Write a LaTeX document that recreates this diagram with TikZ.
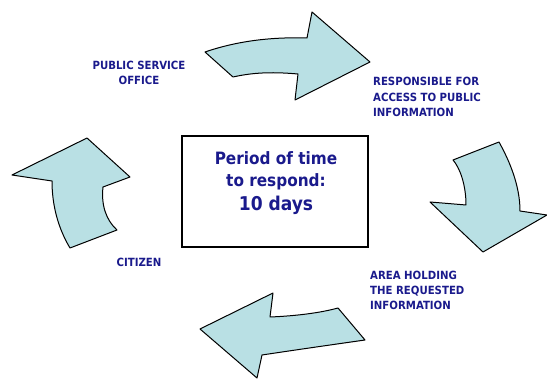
\documentclass[tikz,border=0pt]{standalone}
\usepackage{fontspec}
\setmainfont{DejaVu Sans Condensed}
\definecolor{navy}{RGB}{26,26,140}
\definecolor{arrowfill}{RGB}{185,224,228}
\tikzset{
  bigarrow/.style={fill=arrowfill, draw=black, line width=1pt, line join=round},
  lbl/.style={text=navy, font=\fontsize{11.3}{15.2}\selectfont\bfseries, inner sep=0pt},
  boxstyle/.style={draw=black, line width=1.2pt, minimum width=186pt, minimum height=111pt, inner sep=0pt},
  boxtext/.style={text=navy, font=\fontsize{17}{22.5}\selectfont\bfseries, align=center, inner sep=0pt}
}
\begin{document}
\begin{tikzpicture}[x=1pt,y=-1pt]
\useasboundingbox (0,0) rectangle (547,379);
% top arrow
\draw[bigarrow] (205,52) .. controls (240,40) and (275,37) .. (307,38) -- (312,12) -- (370,62) -- (295,100) -- (298,74) .. controls (275,72) and (255,72) .. (233,77) -- cycle;
% right arrow
\draw[bigarrow] (453,160) -- (499,142) .. controls (509,160) and (520,185) .. (520,211) -- (547,215) -- (483,252) -- (430,202) -- (466,205) .. controls (466,185) and (460,168) .. (453,160) -- cycle;
% bottom arrow
\draw[bigarrow] (200,329) -- (273,293) -- (270,317) .. controls (295,316) and (320,313) .. (338,308) -- (365,340) .. controls (330,345) and (295,350) .. (262,355) -- (257,378) -- cycle;
% left arrow
\draw[bigarrow] (87,138) -- (130,177) -- (103,187) .. controls (101,205) and (106,220) .. (117,230) -- (70,248) .. controls (58,228) and (52,205) .. (52,181) -- (12,175) -- cycle;
% central box
\node[boxstyle] (box) at (275,191.5) {};
\node[boxtext] (period) at (276,183) {Period of time\\to respond:\\[1pt]{\fontsize{19}{22}\selectfont 10 days}};
% labels
\node[lbl, align=center] (office) at (139,73) {PUBLIC SERVICE\\OFFICE};
\node[lbl, align=left, anchor=west] (resp) at (373,97) {RESPONSIBLE FOR\\ACCESS TO PUBLIC\\INFORMATION};
\node[lbl, align=left, anchor=west] (area) at (370,290.5) {AREA HOLDING\\THE REQUESTED\\INFORMATION};
\node[lbl] (citizen) at (139,262) {CITIZEN};
\end{tikzpicture}
\end{document}
